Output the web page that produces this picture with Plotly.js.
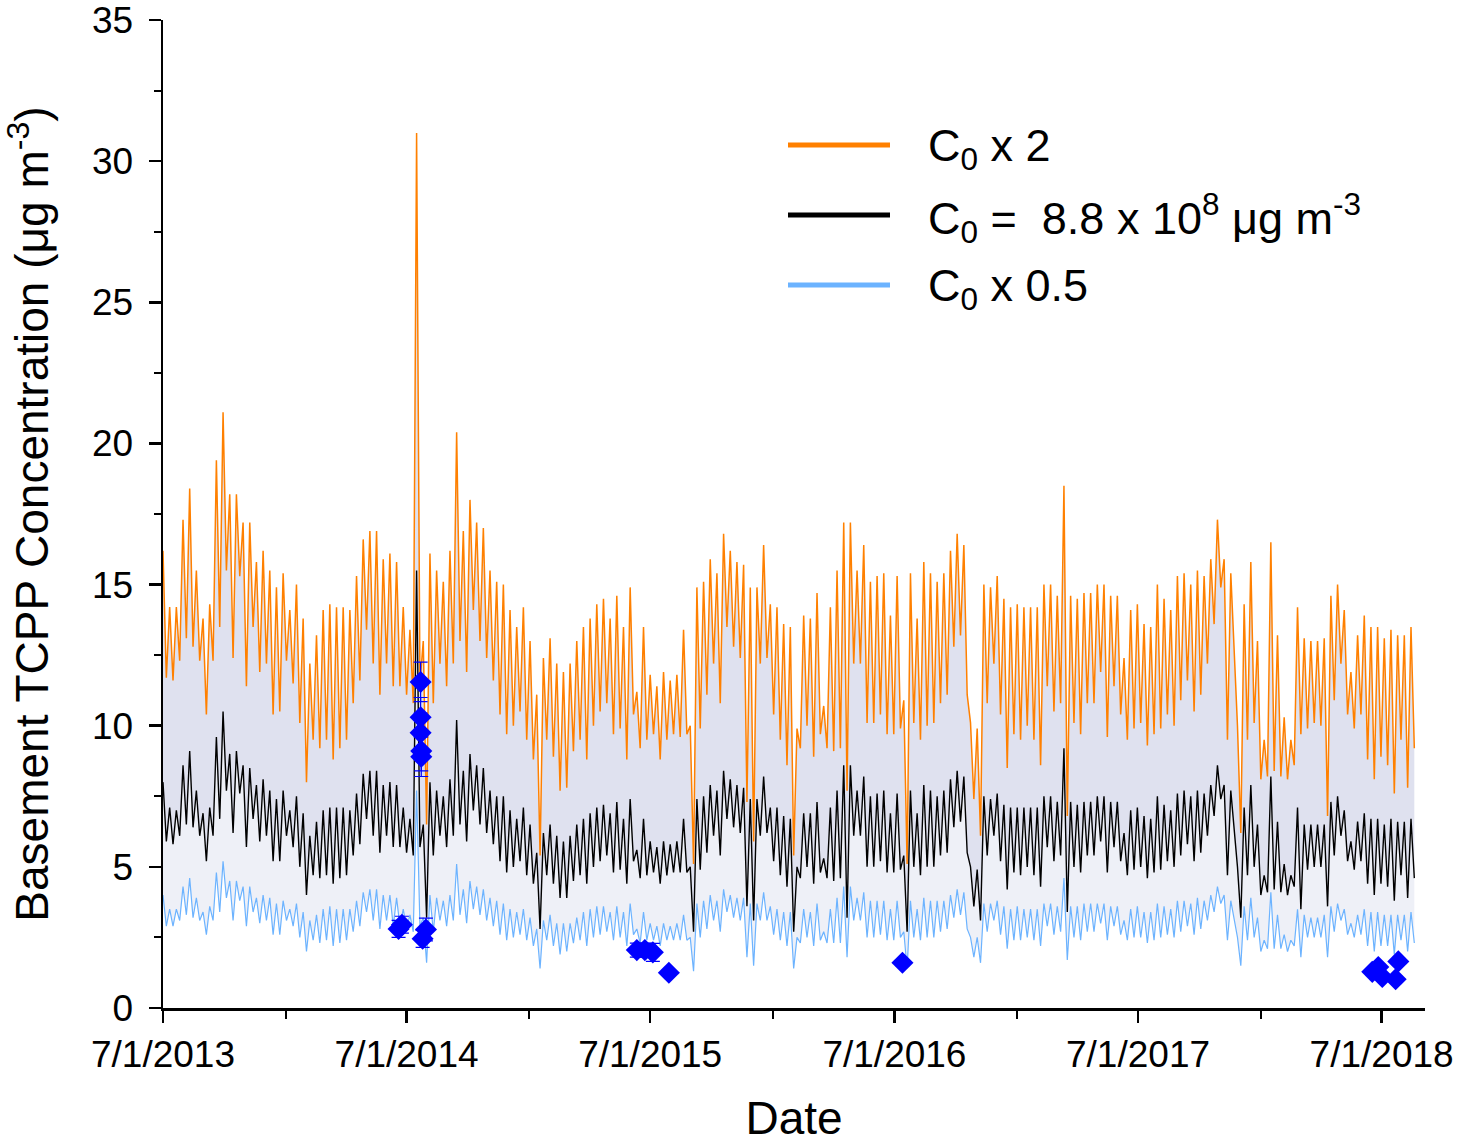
<!DOCTYPE html>
<html>
<head>
<meta charset="utf-8">
<script src="https://cdn.plot.ly/plotly-3.0.1.min.js"></script>
<style>html,body{margin:0;padding:0;background:#fff;}#chart{width:1460px;height:1144px;}</style>
</head>
<body>
<div id="chart"></div>
<script>
// Simulated series: each 10-day period has an upper (hi) and lower (lo) reading
const startDate = '2013-07-01';
const periodDays = 10;

const orangeHi = [
16.2,14.2,14.2,17.3,18.4,15.5,13.8,14.3,19.4,21.1,
18.2,18.2,17.2,17.2,15.8,16.2,15.5,14.9,15.4,14.1,
15.0,13.8,12.2,13.2,14.1,14.3,14.2,14.2,14.1,15.3,
16.6,16.9,16.9,15.9,16.1,15.8,14.2,13.4,31.0,13.0,
16.1,15.5,15.1,16.2,20.4,16.9,18.0,17.2,17.0,15.5,
15.1,15.0,14.1,13.5,14.2,13.0,11.1,12.4,13.1,12.2,
11.9,12.2,13.0,13.5,13.8,14.3,14.5,13.8,14.6,13.5,
14.9,11.2,13.5,11.8,11.4,11.9,11.6,11.8,13.4,10.0,
14.9,15.1,15.9,15.4,16.8,16.2,15.8,15.7,14.9,14.9,
16.4,14.3,14.2,13.6,13.5,9.9,13.9,13.8,14.7,10.7,
14.2,15.5,17.2,17.2,15.5,16.4,15.1,15.3,15.4,13.9,
15.3,10.9,15.4,13.8,15.8,15.4,15.1,15.4,16.2,16.8,
16.4,10.1,9.9,15.0,14.9,15.3,14.5,14.2,14.3,14.2,
14.2,14.2,15.0,15.0,14.6,18.5,14.6,14.5,14.7,14.7,
15.0,15.0,14.6,14.6,12.4,14.1,14.3,13.6,13.5,15.0,
14.5,14.1,15.3,15.4,15.0,15.5,15.3,15.9,17.3,15.9,
15.4,10.0,14.3,15.8,13.0,9.5,16.5,13.2,10.3,9.5,
14.2,13.1,13.0,13.0,13.1,14.6,15.0,14.1,11.9,13.2,
13.9,13.5,13.5,13.1,13.4,13.2,13.2,13.5
];
const orangeLo = [
11.7,11.6,12.3,13.1,12.8,12.3,10.4,12.3,13.5,15.5,
12.4,15.3,11.4,13.5,11.9,12.2,10.4,10.5,12.3,11.5,
10.1,8.0,9.5,9.2,9.5,8.8,9.2,9.5,10.8,11.6,
13.4,12.2,11.1,12.2,11.4,11.4,11.1,10.8,11.5,6.5,
10.8,12.2,11.4,12.2,13.0,11.9,14.1,13.0,12.4,11.6,
10.4,9.7,10.0,10.5,9.5,8.8,5.4,9.5,8.9,7.7,
7.8,9.1,9.5,8.8,10.0,10.5,10.8,9.7,9.9,8.8,
10.4,9.2,9.5,9.7,8.8,9.5,9.7,9.6,9.7,5.1,
9.9,11.1,12.2,10.8,13.5,12.8,12.4,7.3,5.9,12.2,
12.4,10.4,9.5,8.6,5.4,9.2,10.0,8.9,9.7,9.2,
9.1,9.2,7.7,12.2,12.2,10.1,10.1,10.4,9.7,9.7,
9.9,5.1,10.1,9.5,10.0,10.1,10.8,11.1,12.8,13.2,
11.1,7.4,6.1,10.8,12.2,10.4,8.5,9.7,9.5,10.0,
9.5,8.6,11.4,10.5,10.8,6.8,10.1,9.7,10.8,10.8,
11.9,9.6,11.4,10.4,9.5,9.9,10.1,9.3,9.7,9.9,
10.4,10.0,10.9,11.6,10.5,11.1,12.2,13.6,14.9,9.5,
12.8,6.2,9.5,10.1,8.1,8.2,8.4,8.2,8.1,8.6,
9.7,9.9,10.1,10.0,6.8,10.9,12.2,10.4,9.9,10.4,
8.8,8.1,8.9,8.6,7.6,9.5,7.8,9.2
];
const blackHi = [
8.0,7.1,7.0,8.6,9.1,7.7,6.9,7.1,9.6,10.5,
9.0,9.1,8.6,8.5,7.9,8.1,7.7,7.4,7.7,7.0,
7.5,6.9,6.1,6.6,7.0,7.1,7.1,7.1,7.0,7.6,
8.3,8.4,8.4,7.9,8.0,7.9,7.1,6.7,15.5,6.5,
8.0,7.7,7.5,8.1,10.2,8.4,9.0,8.6,8.5,7.7,
7.5,7.5,7.0,6.7,7.1,6.5,5.5,6.2,6.5,6.1,
5.9,6.1,6.5,6.7,6.9,7.1,7.2,6.9,7.3,6.7,
7.4,5.6,6.7,5.9,5.7,5.9,5.8,5.9,6.7,5.0,
7.4,7.5,7.9,7.7,8.4,8.1,7.9,7.8,7.4,7.4,
8.2,7.1,7.1,6.8,6.7,5.0,6.9,6.9,7.3,5.3,
7.1,7.7,8.6,8.6,7.7,8.2,7.5,7.6,7.7,6.9,
7.6,5.4,7.7,6.9,7.9,7.7,7.5,7.7,8.1,8.4,
8.2,5.0,4.9,7.5,7.4,7.6,7.2,7.1,7.1,7.1,
7.1,7.1,7.5,7.5,7.3,9.2,7.3,7.2,7.3,7.3,
7.5,7.5,7.3,7.3,6.2,7.0,7.1,6.8,6.7,7.5,
7.2,7.0,7.6,7.7,7.5,7.7,7.6,7.9,8.6,7.9,
7.7,5.0,7.1,7.9,6.5,4.7,8.2,6.6,5.1,4.7,
7.1,6.5,6.5,6.5,6.5,7.3,7.5,7.0,5.9,6.6,
6.9,6.7,6.7,6.5,6.7,6.6,6.6,6.7
];
const blackLo = [
5.9,5.8,6.1,6.5,6.4,6.1,5.2,6.1,6.7,7.7,
6.2,7.6,5.7,6.7,5.9,6.1,5.2,5.2,6.1,5.7,
5.0,4.0,4.7,4.6,4.7,4.4,4.6,4.7,5.4,5.8,
6.7,6.1,5.5,6.1,5.7,5.7,5.5,5.4,5.7,3.2,
5.4,6.1,5.7,6.1,6.5,5.9,7.0,6.5,6.2,5.8,
5.2,4.8,5.0,5.2,4.7,4.4,2.8,4.7,4.4,3.9,
3.9,4.5,4.7,4.4,5.0,5.2,5.4,4.8,4.9,4.4,
5.2,4.6,4.7,4.8,4.4,4.7,4.8,4.8,4.8,2.7,
4.9,5.5,6.1,5.4,6.7,6.4,6.2,3.6,3.1,6.1,
6.2,5.2,4.7,4.3,2.7,4.6,5.0,4.4,4.8,4.6,
4.5,4.6,3.2,6.1,6.1,5.0,5.0,5.2,4.8,4.8,
4.9,2.7,5.0,4.7,5.0,5.0,5.4,5.5,6.4,6.6,
5.5,3.6,3.1,5.4,6.1,5.2,4.2,4.8,4.7,5.0,
4.7,4.3,5.7,5.2,5.4,3.4,5.0,4.8,5.4,5.4,
5.9,4.8,5.7,5.2,4.7,4.9,5.0,4.6,4.8,4.9,
5.2,5.0,5.4,5.8,5.2,5.5,6.1,6.8,7.4,4.7,
6.4,3.2,4.7,5.0,4.0,4.1,4.2,4.1,4.0,4.3,
3.5,4.9,5.0,5.0,3.6,5.4,6.1,5.2,4.9,5.2,
4.4,4.0,4.4,4.3,3.8,4.7,3.9,4.6
];
const blueHi = [
4.0,3.5,3.5,4.3,4.6,3.9,3.4,3.6,4.8,5.2,
4.5,4.5,4.3,4.3,3.9,4.0,3.9,3.7,3.8,3.5,
3.7,3.4,3.1,3.3,3.5,3.6,3.5,3.5,3.5,3.8,
4.1,4.2,4.2,4.0,4.0,3.9,3.5,3.3,7.7,3.2,
4.0,3.9,3.8,4.0,5.1,4.2,4.5,4.3,4.2,3.9,
3.8,3.7,3.5,3.4,3.5,3.2,2.8,3.1,3.3,3.0,
3.0,3.0,3.2,3.4,3.5,3.6,3.6,3.4,3.6,3.4,
3.7,2.8,3.4,3.0,2.9,3.0,2.9,3.0,3.3,2.5,
3.7,3.8,4.0,3.8,4.2,4.0,3.9,3.9,3.7,3.7,
4.1,3.6,3.5,3.4,3.4,2.5,3.5,3.4,3.7,2.7,
3.5,3.9,4.3,4.3,3.9,4.1,3.8,3.8,3.8,3.5,
3.8,2.7,3.8,3.5,3.9,3.8,3.8,3.8,4.0,4.2,
4.1,2.5,2.5,3.7,3.7,3.8,3.6,3.5,3.6,3.5,
3.5,3.5,3.7,3.7,3.6,4.6,3.6,3.6,3.7,3.7,
3.7,3.7,3.6,3.6,3.1,3.5,3.6,3.4,3.4,3.7,
3.6,3.5,3.8,3.8,3.7,3.9,3.8,4.0,4.3,4.0,
3.8,2.5,3.6,3.9,3.2,2.4,4.1,3.3,2.6,2.4,
3.5,3.3,3.2,3.2,3.3,3.6,3.7,3.5,3.0,3.3,
3.5,3.4,3.4,3.3,3.3,3.3,3.3,3.4
];
const blueLo = [
2.9,2.9,3.1,3.3,3.2,3.1,2.6,3.1,3.4,3.9,
3.1,3.8,2.9,3.4,3.0,3.1,2.6,2.6,3.1,2.9,
2.5,2.0,2.4,2.3,2.4,2.2,2.3,2.4,2.7,2.9,
3.4,3.1,2.8,3.1,2.9,2.9,2.8,2.7,2.9,1.6,
2.7,3.1,2.9,3.1,3.3,3.0,3.5,3.3,3.1,2.9,
2.6,2.4,2.5,2.6,2.4,2.2,1.4,2.4,2.2,1.9,
2.0,2.3,2.4,2.2,2.5,2.6,2.7,2.4,2.5,2.2,
2.6,2.3,2.4,2.4,2.2,2.4,2.4,2.4,2.4,1.3,
2.5,2.8,3.1,2.7,3.4,3.2,3.1,1.8,1.5,3.1,
3.1,2.6,2.4,2.2,1.4,2.3,2.5,2.2,2.4,2.3,
2.3,2.3,1.8,3.1,3.1,2.5,2.5,2.6,2.4,2.4,
2.5,1.4,2.5,2.4,2.5,2.5,2.7,2.8,3.2,3.3,
2.8,1.8,1.6,2.7,3.1,2.6,2.1,2.4,2.4,2.5,
2.4,2.2,2.9,2.6,2.7,1.7,2.5,2.4,2.7,2.7,
3.0,2.4,2.9,2.6,2.4,2.5,2.5,2.3,2.4,2.5,
2.6,2.5,2.7,2.9,2.6,2.8,3.1,3.4,3.7,2.4,
3.2,1.5,2.4,2.5,2.0,2.1,2.1,2.1,2.0,2.2,
1.8,2.5,2.5,2.5,1.8,2.7,3.1,2.6,2.5,2.6,
2.2,2.0,2.2,2.2,1.9,2.4,2.0,2.3
];

// Measured basement concentrations (blue diamonds)
const measDates = ['2014-06-19','2014-06-24','2014-07-22','2014-07-22','2014-07-22','2014-07-23','2014-07-23','2014-07-30','2014-07-25',
  '2015-06-11','2015-06-23','2015-07-05','2015-07-29','2016-07-13',
  '2018-06-17','2018-06-26','2018-07-02','2018-07-22','2018-07-26'];
const measValues = [2.8,2.95,11.55,10.3,9.75,9.1,8.9,2.78,2.45,
  2.05,2.05,1.97,1.25,1.6,
  1.28,1.45,1.1,1.02,1.65];
const measErrors = [0.3,0.3,0.7,0.7,0.7,0.7,0.7,0.4,0.3,
  0.25,0.25,0.32,0.1,0.1,
  0.1,0.1,0.1,0.1,0.1];

const legendLabels = ['C<sub>0</sub> x 2', 'C<sub>0</sub> =\u00a0 8.8 x 10<sup>8</sup> \u03bcg m<sup>-3</sup>', 'C<sub>0</sub> x 0.5'];
const xTitle = 'Date';
const yTitle = 'Basement TCPP Concentration (\u03bcg m<sup>-3</sup>)';

function dateAt(d){
  const t = Date.parse(startDate + 'T00:00:00Z') + d*86400000;
  return new Date(t).toISOString().slice(0,10);
}
function zig(hi, lo){
  const x=[], y=[];
  for(let i=0;i<hi.length;i++){
    x.push(dateAt(i*periodDays)); y.push(hi[i]);
    x.push(dateAt(i*periodDays+periodDays/2)); y.push(lo[i]);
  }
  return {x, y};
}
const blue = zig(blueHi, blueLo), black = zig(blackHi, blackLo), orange = zig(orangeHi, orangeLo);

const colOrange = '#ff8000', colBlack = '#000000', colBlue = '#6cb3ff';

const traces = [
  {type:'scatter', mode:'lines', x:blue.x, y:blue.y, line:{color:colBlue, width:1.2}, showlegend:false, hoverinfo:'skip'},
  {type:'scatter', mode:'lines', x:black.x, y:black.y, line:{color:colBlack, width:1.4}, fill:'tonexty', fillcolor:'#eef0f7', showlegend:false, hoverinfo:'skip'},
  {type:'scatter', mode:'lines', x:orange.x, y:orange.y, line:{color:colOrange, width:1.5}, fill:'tonexty', fillcolor:'#dfe1ef', showlegend:false, hoverinfo:'skip'},
  {type:'scatter', mode:'markers', x:measDates, y:measValues,
   marker:{symbol:'diamond', size:17, color:'#0000ff'},
   error_y:{type:'data', array:measErrors, visible:true, color:'#0000ff', thickness:1.2, width:7},
   showlegend:false}
];

// Plot area in px: x 163..1425, y 20..1008
const L=163, R=1425, T=20, B=1008;
function px(xp){ return (xp-L)/(R-L); }
function py(yp){ return (B-yp)/(B-T); }
const legY = [145, 215, 285];
const legCols = [colOrange, colBlack, colBlue];
const shapes = legY.map((yy,i)=>({type:'line', xref:'paper', yref:'paper', x0:px(788), x1:px(890), y0:py(yy), y1:py(yy), line:{color:legCols[i], width:5}}));
const annotations = legY.map((yy,i)=>({xref:'paper', yref:'paper', x:px(926), y:py(yy+3), xanchor:'left', yanchor:'middle', text:legendLabels[i], showarrow:false, font:{size:45, color:'#000'}}));

const layout = {
  width:1460, height:1144,
  margin:{l:L, r:1460-R, t:T, b:1144-B},
  paper_bgcolor:'#fff', plot_bgcolor:'#fff',
  font:{family:'"Liberation Sans", Arial, sans-serif', color:'#000'},
  showlegend:false,
  xaxis:{type:'date', range:['2013-07-01','2018-09-04'], tick0:'2013-07-01', dtick:'M12', tickformat:'%-m/%-d/%Y',
    ticks:'outside', ticklen:12, tickwidth:2.5, tickcolor:'#000', showline:true, linewidth:2.5, linecolor:'#000',
    showgrid:false, zeroline:false, tickfont:{size:37}, ticklabeloverflow:'allow',
    minor:{tick0:'2014-01-01', dtick:'M12', ticks:'outside', ticklen:8, tickwidth:2, tickcolor:'#000', showgrid:false},
    title:{text:xTitle, font:{size:46}, standoff:39}},
  yaxis:{range:[-0.001,35.001], tick0:0, dtick:5, ticks:'outside', ticklen:12, tickwidth:2.5, tickcolor:'#000',
    showline:true, linewidth:2.5, linecolor:'#000', showgrid:false, zeroline:false, tickfont:{size:37},
    ticklabelstandoff:8, ticklabeloverflow:'allow',
    minor:{dtick:2.5, ticks:'outside', ticklen:7, tickwidth:2, tickcolor:'#000', showgrid:false},
    title:{text:yTitle, font:{size:46}, standoff:34}},
  shapes:shapes,
  annotations:annotations
};
Plotly.newPlot('chart', traces, layout, {staticPlot:true, displayModeBar:false});
</script>
</body>
</html>
